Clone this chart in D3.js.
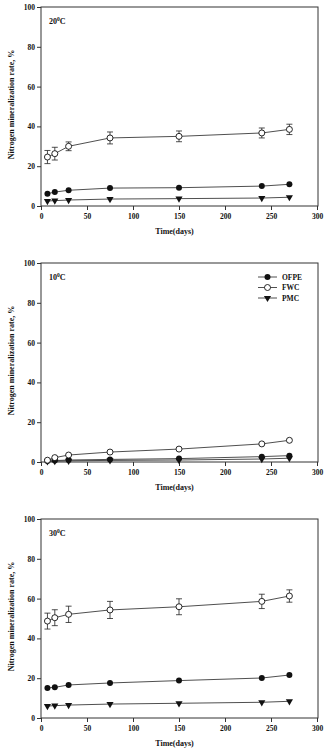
<!DOCTYPE html>
<html>
<head>
<meta charset="utf-8">
<script src="https://cdn.jsdelivr.net/npm/d3@7"></script>
<style>
  body { margin: 0; background: #fff; }
  svg text { font-family: "Liberation Serif", "Times New Roman", serif; font-weight: bold; fill: #111; }
</style>
</head>
<body>
<svg width="326" height="749"></svg>
<script>
// sampling times (days)
const days = [7, 15, 30, 75, 150, 240, 270];
const xTicks = [0, 50, 100, 150, 200, 250, 300];
const yTicks = [0, 20, 40, 60, 80, 100];
const seriesNames = ['OFPE', 'FWC', 'PMC'];

// 20 oC
const ofpe20 = [6.2, 7.0, 7.9, 9.0, 9.2, 10.0, 10.9];
const fwc20 = [24.6, 26.3, 30.0, 34.2, 35.0, 36.7, 38.5];
const fwcErr20 = [3.3, 3.2, 2.2, 3.0, 2.7, 2.5, 2.6];
const pmc20 = [2.5, 2.7, 3.0, 3.5, 3.7, 4.0, 4.4];
// 10 oC
const ofpe10 = [0.5, 0.7, 1.0, 1.3, 1.7, 2.7, 3.2];
const fwc10 = [0.9, 2.2, 3.5, 5.0, 6.5, 9.1, 10.9];
const fwcErr10 = [0, 0, 0, 0, 0, 0, 0];
const pmc10 = [0.3, 0.4, 0.6, 0.8, 1.0, 1.5, 1.9];
// 30 oC
const ofpe30 = [15.1, 15.4, 16.6, 17.6, 18.8, 20.1, 21.6];
const fwc30 = [48.7, 50.4, 52.1, 54.3, 55.9, 58.6, 61.3];
const fwcErr30 = [4.0, 4.0, 4.1, 4.3, 4.0, 3.6, 3.1];
const pmc30 = [6.0, 6.2, 6.5, 7.0, 7.4, 7.9, 8.4];

const panels = [
  {temp: '20', top: 7, ofpe: ofpe20, fwc: fwc20, err: fwcErr20, pmc: pmc20, legend: false},
  {temp: '10', top: 263, ofpe: ofpe10, fwc: fwc10, err: fwcErr10, pmc: pmc10, legend: true},
  {temp: '30', top: 519, ofpe: ofpe30, fwc: fwc30, err: fwcErr30, pmc: pmc30, legend: false}
];

const svg = d3.select('svg');
const left = 41, right = 318, h = 199;

const x = d3.scaleLinear().domain([0, 300]).range([left, right - 1]);
const tri = d3.symbol().type(d3.symbolTriangle).size(22);

function drawMarker(g, type, cx, cy) {
  if (type === 'OFPE') {
    g.append('circle').attr('cx', cx).attr('cy', cy).attr('r', 3).attr('fill', '#111');
  } else if (type === 'FWC') {
    g.append('circle').attr('cx', cx).attr('cy', cy).attr('r', 3)
      .attr('fill', '#fff').attr('stroke', '#111').attr('stroke-width', 0.9);
  } else {
    g.append('path').attr('d', tri)
      .attr('transform', `translate(${cx},${cy}) rotate(180)`).attr('fill', '#111');
  }
}

panels.forEach(p => {
  const y = d3.scaleLinear().domain([0, 100]).range([p.top + h, p.top]);
  const g = svg.append('g');

  // frame
  g.append('rect').attr('x', left).attr('y', p.top)
    .attr('width', right - left).attr('height', h)
    .attr('fill', 'none').attr('stroke', '#333').attr('stroke-width', 1);

  const xAxis = g.append('g').attr('transform', `translate(0,${p.top + h})`)
    .call(d3.axisBottom(x).tickValues(xTicks).tickSize(4).tickPadding(4));
  const yAxis = g.append('g').attr('transform', `translate(${left},0)`)
    .call(d3.axisLeft(y).tickValues(yTicks).tickSize(4).tickPadding(2));
  [xAxis, yAxis].forEach(a => {
    a.select('.domain').remove();
    a.selectAll('line').attr('stroke', '#333');
    a.selectAll('text').style('font-size', '7.5px').style('font-family', '"Liberation Serif", serif')
      .style('font-weight', 'bold').attr('fill', '#111');
  });

  g.append('text').attr('x', (left + right) / 2 - 5).attr('y', p.top + h + 28)
    .attr('text-anchor', 'middle').style('font-size', '8px').text('Time(days)');
  g.append('text').attr('transform', `translate(14,${p.top + h / 2 - 2}) rotate(-90)`)
    .attr('text-anchor', 'middle').style('font-size', '8px').text('Nitrogen mineralization rate, %');

  const t = g.append('text').attr('x', 49).attr('y', p.top + 17).style('font-size', '8px');
  t.append('tspan').text(p.temp);
  t.append('tspan').attr('dy', -3).style('font-size', '5.5px').text('0');
  t.append('tspan').attr('dy', 3).text('C');

  const line = d3.line().x((d, i) => x(days[i])).y(d => y(d));
  const sets = [['PMC', p.pmc], ['OFPE', p.ofpe], ['FWC', p.fwc]];
  sets.forEach(([name, vals]) => {
    g.append('path').attr('d', line(vals)).attr('fill', 'none')
      .attr('stroke', '#222').attr('stroke-width', 0.8);
  });

  // FWC error bars
  p.fwc.forEach((v, i) => {
    if (!p.err[i]) return;
    const cx = x(days[i]);
    const y1 = y(v + p.err[i]), y2 = y(v - p.err[i]);
    g.append('line').attr('x1', cx).attr('x2', cx).attr('y1', y1).attr('y2', y2)
      .attr('stroke', '#222').attr('stroke-width', 0.8);
    [y1, y2].forEach(yy => g.append('line').attr('x1', cx - 3).attr('x2', cx + 3)
      .attr('y1', yy).attr('y2', yy).attr('stroke', '#222').attr('stroke-width', 0.8));
  });

  sets.forEach(([name, vals]) => {
    vals.forEach((v, i) => drawMarker(g, name, x(days[i]), y(v)));
  });

  if (p.legend) {
    const lg = g.append('g');
    seriesNames.forEach((n, i) => {
      const ly = p.top + 14 + i * 10.5;
      lg.append('line').attr('x1', 258).attr('x2', 277).attr('y1', ly).attr('y2', ly)
        .attr('stroke', '#222').attr('stroke-width', 0.8);
      drawMarker(lg, n, 267.5, ly);
      lg.append('text').attr('x', 282).attr('y', ly + 2.7).style('font-size', '7.5px').text(n);
    });
  }
});
</script>
</body>
</html>
